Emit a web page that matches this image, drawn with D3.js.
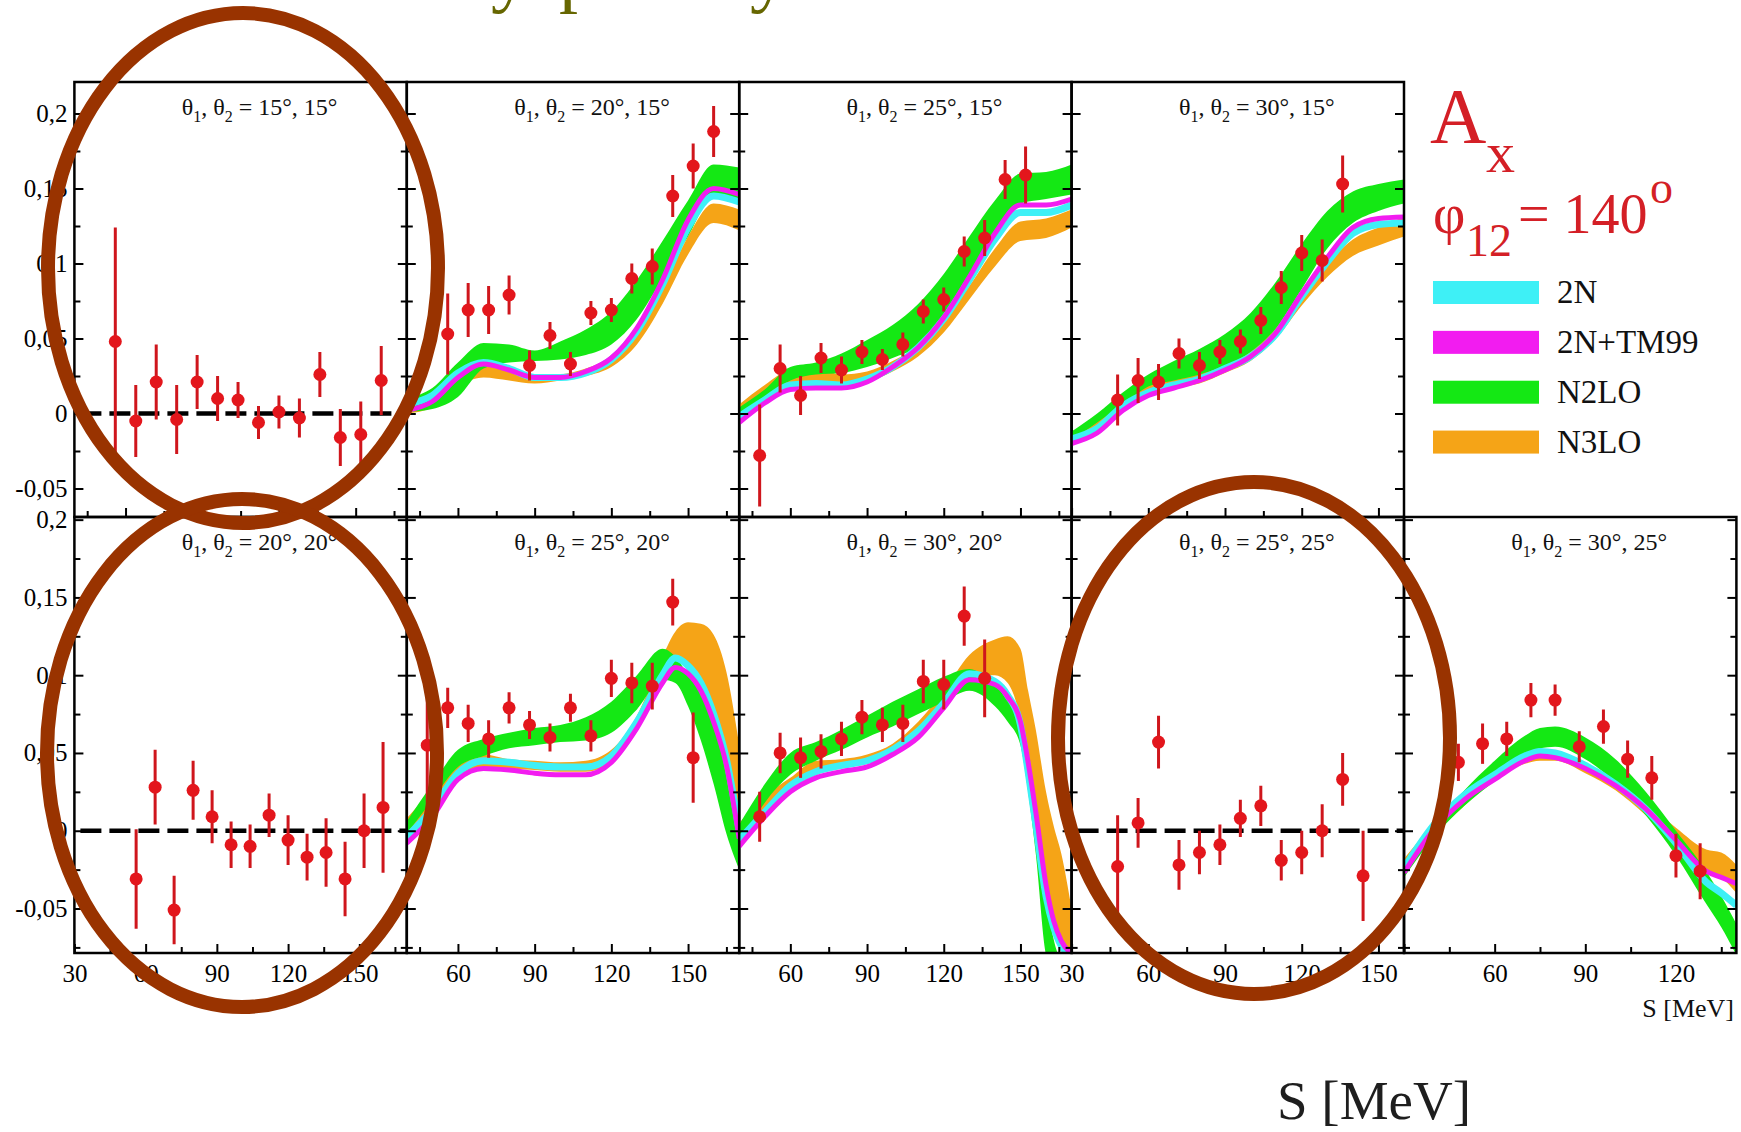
<!DOCTYPE html>
<html>
<head>
<meta charset="utf-8">
<script src="https://cdn.jsdelivr.net/npm/d3@7"></script>
<style>
body { margin: 0; background: #fff; }
svg text { font-family: "Liberation Serif", "Times New Roman", serif; }
</style>
</head>
<body>
<div id="chart"></div>
<script>
// ---- measured data (S in MeV, A_x) ----
var top1_S = [56, 64, 72, 80, 88, 96, 104, 112, 120, 128, 136, 144, 152, 160];
var top1_A = [0.048, -0.005, 0.021, -0.004, 0.021, 0.010, 0.009, -0.006, 0.001, -0.003, 0.026, -0.016, -0.014, 0.022];
var top1_E = [0.076, 0.024, 0.025, 0.023, 0.018, 0.015, 0.012, 0.011, 0.011, 0.013, 0.015, 0.019, 0.022, 0.023];

var top2_S = [56, 64, 72, 80, 88, 96, 104, 112, 120, 128, 136, 144, 152, 160];
var top2_A = [0.053, 0.069, 0.069, 0.079, 0.032, 0.052, 0.033, 0.067, 0.069, 0.090, 0.098, 0.145, 0.165, 0.188];
var top2_E = [0.027, 0.018, 0.016, 0.013, 0.010, 0.009, 0.008, 0.008, 0.008, 0.010, 0.012, 0.014, 0.015, 0.017];

var top3_S = [48, 56, 64, 72, 80, 88, 96, 104, 112, 120, 128, 136, 144, 152];
var top3_A = [-0.028, 0.030, 0.012, 0.037, 0.029, 0.041, 0.036, 0.046, 0.068, 0.076, 0.108, 0.117, 0.156, 0.159];
var top3_E = [0.034, 0.016, 0.013, 0.010, 0.009, 0.008, 0.007, 0.008, 0.008, 0.008, 0.010, 0.012, 0.013, 0.019];

var top4_S = [48, 56, 64, 72, 80, 88, 96, 104, 112, 120, 128, 136];
var top4_A = [0.009, 0.022, 0.021, 0.040, 0.032, 0.041, 0.048, 0.062, 0.084, 0.107, 0.102, 0.153];
var top4_E = [0.017, 0.015, 0.012, 0.010, 0.009, 0.008, 0.008, 0.009, 0.011, 0.012, 0.014, 0.019];

var bot1_S = [56, 64, 72, 80, 88, 96, 104, 112, 120, 128, 136, 144, 152, 160];
var bot1_A = [-0.031, 0.028, -0.051, 0.026, 0.009, -0.009, -0.010, 0.010, -0.006, -0.017, -0.014, -0.031, 0.000, 0.015];
var bot1_E = [0.032, 0.024, 0.022, 0.019, 0.017, 0.015, 0.014, 0.014, 0.016, 0.015, 0.022, 0.024, 0.024, 0.042];

var bot2_S = [48, 56, 64, 72, 80, 88, 96, 104, 112, 120, 128, 136, 144, 152];
var bot2_A = [0.055, 0.079, 0.069, 0.059, 0.079, 0.068, 0.060, 0.079, 0.061, 0.098, 0.095, 0.093, 0.147, 0.047];
var bot2_E = [0.045, 0.013, 0.012, 0.012, 0.010, 0.009, 0.009, 0.009, 0.010, 0.012, 0.013, 0.015, 0.015, 0.029];

var bot3_S = [48, 56, 64, 72, 80, 88, 96, 104, 112, 120, 128, 136];
var bot3_A = [0.009, 0.050, 0.047, 0.051, 0.059, 0.073, 0.068, 0.069, 0.096, 0.094, 0.138, 0.098];
var bot3_E = [0.016, 0.013, 0.013, 0.011, 0.011, 0.011, 0.011, 0.012, 0.014, 0.016, 0.019, 0.025];

var bot4_S = [48, 56, 64, 72, 80, 88, 96, 104, 112, 120, 128, 136, 144];
var bot4_A = [-0.023, 0.005, 0.057, -0.022, -0.014, -0.009, 0.008, 0.016, -0.019, -0.014, 0.000, 0.033, -0.029];
var bot4_E = [0.033, 0.016, 0.017, 0.016, 0.014, 0.013, 0.012, 0.013, 0.013, 0.014, 0.017, 0.017, 0.029];

var bot5_S = [48, 56, 64, 72, 80, 88, 96, 104, 112, 120, 128];
var bot5_A = [0.044, 0.056, 0.059, 0.084, 0.084, 0.054, 0.067, 0.046, 0.034, -0.016, -0.026];
var bot5_E = [0.012, 0.013, 0.011, 0.011, 0.010, 0.010, 0.011, 0.012, 0.014, 0.014, 0.018];

// ---- theory bands ----
var top2_grid = [40, 50, 60, 70, 80, 90, 100, 110, 120, 130, 140, 150, 160, 170];
var top2_n2lo_lo = [0.001, 0.003, 0.011, 0.030, 0.034, 0.035, 0.036, 0.039, 0.046, 0.063, 0.090, 0.118, 0.145, 0.143];
var top2_n2lo_hi = [0.010, 0.017, 0.034, 0.047, 0.046, 0.042, 0.048, 0.056, 0.068, 0.089, 0.115, 0.142, 0.166, 0.164];
var top2_n3lo_lo = [0.000, 0.004, 0.018, 0.024, 0.022, 0.020, 0.022, 0.025, 0.031, 0.046, 0.073, 0.106, 0.127, 0.122];
var top2_n3lo_hi = [0.006, 0.012, 0.025, 0.032, 0.029, 0.025, 0.026, 0.030, 0.038, 0.054, 0.083, 0.118, 0.140, 0.136];
var top2_2n = [0.006, 0.012, 0.027, 0.034, 0.030, 0.024, 0.024, 0.027, 0.036, 0.055, 0.086, 0.124, 0.145, 0.141];
var top2_tm = [0.002, 0.008, 0.024, 0.033, 0.029, 0.024, 0.024, 0.028, 0.037, 0.057, 0.089, 0.129, 0.150, 0.146];

var top3_grid = [40, 50, 60, 70, 80, 90, 100, 110, 120, 130, 140, 150, 160, 170];
var top3_n2lo_lo = [-0.004, 0.010, 0.022, 0.026, 0.027, 0.031, 0.037, 0.045, 0.064, 0.089, 0.116, 0.140, 0.143, 0.146];
var top3_n2lo_hi = [0.004, 0.016, 0.031, 0.034, 0.040, 0.049, 0.059, 0.073, 0.093, 0.118, 0.142, 0.160, 0.161, 0.166];
var top3_n3lo_lo = [-0.004, 0.009, 0.020, 0.021, 0.019, 0.021, 0.028, 0.038, 0.054, 0.076, 0.098, 0.115, 0.117, 0.124];
var top3_n3lo_hi = [0.006, 0.019, 0.029, 0.030, 0.026, 0.028, 0.035, 0.045, 0.062, 0.085, 0.110, 0.128, 0.130, 0.136];
var top3_2n = [-0.002, 0.009, 0.019, 0.020, 0.019, 0.023, 0.031, 0.044, 0.063, 0.089, 0.116, 0.134, 0.134, 0.139];
var top3_tm = [-0.006, 0.007, 0.016, 0.017, 0.017, 0.021, 0.031, 0.044, 0.064, 0.091, 0.120, 0.139, 0.139, 0.143];

var top4_grid = [30, 40, 50, 60, 70, 80, 90, 100, 110, 120, 130, 140, 150, 160];
var top4_n2lo_lo = [-0.018, -0.006, 0.006, 0.018, 0.022, 0.026, 0.032, 0.041, 0.057, 0.083, 0.110, 0.127, 0.135, 0.140];
var top4_n2lo_hi = [-0.012, 0.000, 0.014, 0.026, 0.035, 0.043, 0.053, 0.067, 0.088, 0.113, 0.135, 0.148, 0.153, 0.156];
var top4_n3lo_lo = [-0.020, -0.012, 0.002, 0.012, 0.017, 0.020, 0.027, 0.035, 0.050, 0.072, 0.091, 0.105, 0.112, 0.118];
var top4_n3lo_hi = [-0.012, -0.004, 0.010, 0.020, 0.025, 0.028, 0.034, 0.043, 0.058, 0.080, 0.100, 0.116, 0.124, 0.131];
var top4_2n = [-0.017, -0.010, 0.005, 0.014, 0.019, 0.023, 0.030, 0.038, 0.053, 0.078, 0.101, 0.120, 0.126, 0.127];
var top4_tm = [-0.020, -0.013, 0.002, 0.012, 0.017, 0.022, 0.029, 0.038, 0.054, 0.080, 0.104, 0.124, 0.130, 0.131];

var bot2_grid = [40, 50, 60, 70, 80, 90, 100, 110, 120, 130, 140, 145, 150, 155, 160, 165, 170];
var bot2_n2lo_lo = [-0.002, 0.020, 0.041, 0.048, 0.053, 0.055, 0.057, 0.058, 0.063, 0.078, 0.097, 0.095, 0.080, 0.058, 0.030, -0.002, -0.025];
var bot2_n2lo_hi = [0.006, 0.030, 0.052, 0.059, 0.063, 0.066, 0.068, 0.073, 0.083, 0.100, 0.117, 0.112, 0.100, 0.088, 0.068, 0.040, 0.000];
var bot2_n3lo_lo = [-0.002, 0.012, 0.035, 0.041, 0.040, 0.039, 0.038, 0.038, 0.044, 0.064, 0.098, 0.108, 0.105, 0.095, 0.078, 0.045, 0.000];
var bot2_n3lo_hi = [0.008, 0.026, 0.043, 0.049, 0.046, 0.045, 0.044, 0.045, 0.052, 0.074, 0.112, 0.128, 0.134, 0.133, 0.126, 0.102, 0.055];
var bot2_2n = [-0.004, 0.014, 0.037, 0.045, 0.044, 0.042, 0.041, 0.041, 0.048, 0.070, 0.100, 0.111, 0.106, 0.095, 0.075, 0.046, 0.000];
var bot2_tm = [-0.008, 0.009, 0.033, 0.040, 0.039, 0.037, 0.036, 0.036, 0.044, 0.066, 0.095, 0.105, 0.101, 0.090, 0.070, 0.042, -0.005];

var bot3_grid = [40, 50, 60, 70, 80, 90, 100, 110, 120, 130, 140, 145, 150, 153, 156, 160, 163, 166, 170];
var bot3_n2lo_lo = [-0.010, 0.018, 0.036, 0.045, 0.052, 0.060, 0.067, 0.075, 0.083, 0.090, 0.080, 0.070, 0.055, 0.025, -0.015, -0.080, -0.090, -0.100, -0.110];
var bot3_n2lo_hi = [0.004, 0.030, 0.050, 0.057, 0.065, 0.074, 0.083, 0.091, 0.099, 0.104, 0.094, 0.088, 0.072, 0.050, 0.015, -0.042, -0.070, -0.085, -0.095];
var bot3_n3lo_lo = [-0.006, 0.010, 0.027, 0.036, 0.040, 0.043, 0.049, 0.060, 0.079, 0.100, 0.100, 0.095, 0.072, 0.045, 0.012, -0.035, -0.058, -0.071, -0.079];
var bot3_n3lo_hi = [0.005, 0.022, 0.034, 0.045, 0.046, 0.049, 0.056, 0.070, 0.090, 0.113, 0.123, 0.125, 0.117, 0.090, 0.065, 0.025, 0.003, -0.015, -0.050];
var bot3_2n = [-0.006, 0.012, 0.029, 0.038, 0.042, 0.045, 0.052, 0.064, 0.082, 0.101, 0.096, 0.087, 0.068, 0.038, 0.004, -0.042, -0.062, -0.074, -0.080];
var bot3_tm = [-0.010, 0.009, 0.025, 0.034, 0.038, 0.041, 0.049, 0.060, 0.079, 0.097, 0.094, 0.086, 0.070, 0.044, 0.012, -0.035, -0.058, -0.071, -0.079];

var bot5_grid = [30, 40, 50, 60, 70, 75, 80, 90, 100, 110, 120, 130, 135, 140];
var bot5_n2lo_lo = [-0.030, -0.004, 0.016, 0.032, 0.048, 0.053, 0.054, 0.046, 0.031, 0.010, -0.016, -0.047, -0.062, -0.080];
var bot5_n2lo_hi = [-0.022, 0.004, 0.026, 0.045, 0.061, 0.066, 0.067, 0.060, 0.046, 0.025, 0.000, -0.026, -0.042, -0.060];
var bot5_n3lo_lo = [-0.027, -0.003, 0.016, 0.033, 0.043, 0.045, 0.045, 0.037, 0.026, 0.010, -0.007, -0.025, -0.030, -0.040];
var bot5_n3lo_hi = [-0.018, 0.005, 0.025, 0.041, 0.051, 0.052, 0.051, 0.043, 0.032, 0.018, 0.002, -0.012, -0.014, -0.022];
var bot5_2n = [-0.024, 0.004, 0.023, 0.036, 0.048, 0.051, 0.050, 0.042, 0.030, 0.014, -0.008, -0.033, -0.040, -0.048];
var bot5_tm = [-0.027, 0.001, 0.020, 0.033, 0.045, 0.048, 0.047, 0.040, 0.029, 0.014, -0.006, -0.026, -0.030, -0.034];

// ---- ticks and labels ----
var xMajor = [30, 60, 90, 120, 150];
var xMinor = [45, 75, 105, 135, 165];
var yMajor = [-0.05, 0, 0.05, 0.1, 0.15, 0.2];
var yMinor = [-0.075, -0.025, 0.025, 0.075, 0.125, 0.175];
var legendNames = ['2N', '2N+TM99', 'N2LO', 'N3LO'];

var CYAN = '#3ef0f6', MAGENTA = '#f21cf0', GREEN = '#14e814', ORANGE = '#f5a417';
var RED = '#e3161c', BROWN = '#993300';

var W = 1741, H = 1132;
var svg = d3.select('#chart').append('svg').attr('width', W).attr('height', H);
var defs = svg.append('defs');

var left = 74.4, pw = 332.4;
var rows = [
  {top: 82, h: 435, dom: [-0.069, 0.221]},
  {top: 517, h: 436, dom: [-0.0786, 0.2017]}
];

function band(grid, n2lo_lo, n2lo_hi, n3lo_lo, n3lo_hi, c2n, tm) {
  return {grid: grid, n2lo: [n2lo_lo, n2lo_hi], n3lo: [n3lo_lo, n3lo_hi], c2n: c2n, tm: tm};
}

var panels = [
  {row: 0, col: 0, th: ['15', '15'], xdom: [40, 170], S: top1_S, A: top1_A, E: top1_E, zero: true, xlab: []},
  {row: 0, col: 1, th: ['20', '15'], xdom: [40, 170], S: top2_S, A: top2_A, E: top2_E, xlab: [],
    bands: band(top2_grid, top2_n2lo_lo, top2_n2lo_hi, top2_n3lo_lo, top2_n3lo_hi, top2_2n, top2_tm)},
  {row: 0, col: 2, th: ['25', '15'], xdom: [40, 170], S: top3_S, A: top3_A, E: top3_E, xlab: [],
    bands: band(top3_grid, top3_n2lo_lo, top3_n2lo_hi, top3_n3lo_lo, top3_n3lo_hi, top3_2n, top3_tm)},
  {row: 0, col: 3, th: ['30', '15'], xdom: [30, 160], S: top4_S, A: top4_A, E: top4_E, xlab: [],
    bands: band(top4_grid, top4_n2lo_lo, top4_n2lo_hi, top4_n3lo_lo, top4_n3lo_hi, top4_2n, top4_tm)},
  {row: 1, col: 0, th: ['20', '20'], xdom: [30, 170], S: bot1_S, A: bot1_A, E: bot1_E, zero: true, xlab: [30, 60, 90, 120, 150]},
  {row: 1, col: 1, th: ['25', '20'], xdom: [40, 170], S: bot2_S, A: bot2_A, E: bot2_E, xlab: [60, 90, 120, 150],
    bands: band(bot2_grid, bot2_n2lo_lo, bot2_n2lo_hi, bot2_n3lo_lo, bot2_n3lo_hi, bot2_2n, bot2_tm)},
  {row: 1, col: 2, th: ['30', '20'], xdom: [40, 170], S: bot3_S, A: bot3_A, E: bot3_E, xlab: [60, 90, 120, 150],
    bands: band(bot3_grid, bot3_n2lo_lo, bot3_n2lo_hi, bot3_n3lo_lo, bot3_n3lo_hi, bot3_2n, bot3_tm)},
  {row: 1, col: 3, th: ['25', '25'], xdom: [30, 160], S: bot4_S, A: bot4_A, E: bot4_E, zero: true, xlab: [30, 60, 90, 120, 150]},
  {row: 1, col: 4, th: ['30', '25'], xdom: [30, 140], S: bot5_S, A: bot5_A, E: bot5_E, xlab: [60, 90, 120],
    bands: band(bot5_grid, bot5_n2lo_lo, bot5_n2lo_hi, bot5_n3lo_lo, bot5_n3lo_hi, bot5_2n, bot5_tm)}
];

// comma decimals and a plain hyphen for the sign, as on the original
var fmtY = function(d) {
  return d === 0 ? '0' : d3.format('.2~f')(d).replace('\u2212', '-').replace('.', ',');
};

function styleAxis(sel, size) {
  sel.select('.domain').remove();
  sel.selectAll('line').attr('stroke', '#000').attr('stroke-width', 2);
  sel.selectAll('text').attr('font-family', '"Liberation Serif", "Times New Roman", serif')
    .attr('font-size', size).attr('fill', '#000');
}

panels.forEach(function(p, k) {
  var r = rows[p.row];
  var x0 = left + p.col * pw;
  var g = svg.append('g').attr('transform', 'translate(' + x0 + ',' + r.top + ')');
  var x = d3.scaleLinear().domain(p.xdom).range([0, pw]);
  var y = d3.scaleLinear().domain(r.dom).range([r.h, 0]);

  defs.append('clipPath').attr('id', 'clip' + k)
    .append('rect').attr('width', pw).attr('height', r.h);
  var plot = g.append('g').attr('clip-path', 'url(#clip' + k + ')');

  if (p.bands) {
    var b = p.bands;
    var area = d3.area()
      .x(function(d, i) { return x(b.grid[i]); })
      .y0(function(d) { return y(d[0]); })
      .y1(function(d) { return y(d[1]); })
      .curve(d3.curveMonotoneX);
    var line = d3.line()
      .x(function(d, i) { return x(b.grid[i]); })
      .y(function(d) { return y(d); })
      .curve(d3.curveMonotoneX);
    var pairs = function(lh) { return lh[0].map(function(v, i) { return [v, lh[1][i]]; }); };
    plot.append('path').attr('d', area(pairs(b.n3lo))).attr('fill', ORANGE);
    plot.append('path').attr('d', area(pairs(b.n2lo))).attr('fill', GREEN);
    plot.append('path').attr('d', line(b.c2n)).attr('fill', 'none').attr('stroke', CYAN).attr('stroke-width', 7);
    plot.append('path').attr('d', line(b.tm)).attr('fill', 'none').attr('stroke', MAGENTA).attr('stroke-width', 5);
  }

  if (p.zero) {
    plot.append('line')
      .attr('x1', x(p.xdom[0]) + 6).attr('x2', pw)
      .attr('y1', y(0)).attr('y2', y(0))
      .attr('stroke', '#000').attr('stroke-width', 4.5)
      .attr('stroke-dasharray', '21,8');
  }

  var pts = p.S.map(function(s, i) { return {s: s, a: p.A[i], e: p.E[i]}; });
  plot.selectAll('line.err').data(pts).enter().append('line')
    .attr('class', 'err')
    .attr('x1', function(d) { return x(d.s); }).attr('x2', function(d) { return x(d.s); })
    .attr('y1', function(d) { return y(d.a - d.e); }).attr('y2', function(d) { return y(d.a + d.e); })
    .attr('stroke', '#cf161c').attr('stroke-width', 3);
  plot.selectAll('circle').data(pts).enter().append('circle')
    .attr('cx', function(d) { return x(d.s); })
    .attr('cy', function(d) { return y(d.a); })
    .attr('r', 6.5)
    .attr('fill', RED);

  // y ticks, both sides
  var inY = function(v) { return v > r.dom[0] && v <= r.dom[1] + 1e-9; };
  var yl = g.append('g').call(d3.axisLeft(y).tickValues(yMajor.filter(inY)).tickSize(-9).tickPadding(7)
    .tickFormat(p.col === 0 ? fmtY : ''));
  styleAxis(yl, 25);
  styleAxis(g.append('g').call(d3.axisLeft(y).tickValues(yMinor.filter(inY)).tickSize(-6).tickFormat('')), 25);
  styleAxis(g.append('g').attr('transform', 'translate(' + pw + ',0)')
    .call(d3.axisRight(y).tickValues(yMajor.filter(inY)).tickSize(-9).tickFormat('')), 25);
  styleAxis(g.append('g').attr('transform', 'translate(' + pw + ',0)')
    .call(d3.axisRight(y).tickValues(yMinor.filter(inY)).tickSize(-6).tickFormat('')), 25);

  // x ticks, pointing up
  var inX = function(v) { return v >= p.xdom[0] && v < p.xdom[1]; };
  var xa = g.append('g').attr('transform', 'translate(0,' + r.h + ')')
    .call(d3.axisBottom(x).tickValues(xMajor.filter(inX)).tickSize(-9).tickPadding(11)
      .tickFormat(function(d) { return p.xlab.indexOf(d) >= 0 ? d : ''; }));
  styleAxis(xa, 25);
  styleAxis(g.append('g').attr('transform', 'translate(0,' + r.h + ')')
    .call(d3.axisBottom(x).tickValues(xMinor.filter(inX)).tickSize(-6).tickFormat('')), 25);

  // frame
  g.append('rect').attr('width', pw).attr('height', r.h)
    .attr('fill', 'none').attr('stroke', '#000').attr('stroke-width', 2.5);

  // panel title
  var t = g.append('text').attr('x', pw / 2 + 19).attr('y', 33)
    .attr('text-anchor', 'middle').attr('font-size', 24).attr('fill', '#111');
  t.append('tspan').text('\u03b8');
  t.append('tspan').attr('font-size', 16).attr('dy', 7).text('1');
  t.append('tspan').attr('dy', -7).text(', \u03b8');
  t.append('tspan').attr('font-size', 16).attr('dy', 7).text('2');
  t.append('tspan').attr('dy', -7).text(' = ' + p.th[0] + '\u00b0, ' + p.th[1] + '\u00b0');
});

// small axis title under last panel
svg.append('text').attr('x', 1734).attr('y', 1017).attr('text-anchor', 'end')
  .attr('font-size', 26).attr('fill', '#111').text('S [MeV]');

// A_x, phi_12 label
svg.append('text').attr('x', 1430).attr('y', 142).attr('font-size', 78).attr('fill', '#d41f26').text('A');
svg.append('text').attr('x', 1486).attr('y', 172).attr('font-size', 58).attr('fill', '#d41f26').text('x');
svg.append('text').attr('x', 1433).attr('y', 233).attr('font-size', 56).attr('fill', '#d41f26').text('\u03c6');
svg.append('text').attr('x', 1466).attr('y', 256).attr('font-size', 46).attr('fill', '#d41f26').text('12');
svg.append('text').attr('x', 1518).attr('y', 233).attr('font-size', 56).attr('fill', '#d41f26').text('= 140');
svg.append('text').attr('x', 1650).attr('y', 203).attr('font-size', 46).attr('fill', '#d41f26').text('o');

// legend
var legY = d3.scaleBand().domain(legendNames).range([281, 457]).paddingInner(0.47);
var legColors = d3.scaleOrdinal().domain(legendNames).range([CYAN, MAGENTA, GREEN, ORANGE]);
var leg = svg.append('g');
leg.selectAll('rect').data(legendNames).enter().append('rect')
  .attr('x', 1433).attr('y', function(d) { return legY(d); })
  .attr('width', 106).attr('height', 23)
  .attr('fill', function(d) { return legColors(d); });
leg.selectAll('text').data(legendNames).enter().append('text')
  .attr('x', 1557).attr('y', function(d) { return legY(d) + 22; })
  .attr('font-size', 33).attr('fill', '#111')
  .text(function(d) { return d; });

// slide title remnants (cut off at the top edge, as on the slide)
var titleBits = [['y', 491], ['p', 559], ['y', 750]];
svg.selectAll('text.ttl').data(titleBits).enter().append('text')
  .attr('class', 'ttl')
  .attr('x', function(d) { return d[1]; }).attr('y', -2)
  .attr('font-size', 76).attr('fill', '#666600')
  .text(function(d) { return d[0]; });

// slide axis title
svg.append('text').attr('x', 1277).attr('y', 1119).attr('font-size', 55).attr('fill', '#1e1e1e').text('S [MeV]');

// hand-drawn highlight ellipses
var ellipses = [[243, 268, 195, 255], [242, 753, 195, 254], [1254, 738, 196, 256]];
svg.selectAll('ellipse').data(ellipses).enter().append('ellipse')
  .attr('cx', function(d) { return d[0]; }).attr('cy', function(d) { return d[1]; })
  .attr('rx', function(d) { return d[2]; }).attr('ry', function(d) { return d[3]; })
  .attr('fill', 'none').attr('stroke', BROWN).attr('stroke-width', 14);
</script>
</body>
</html>
